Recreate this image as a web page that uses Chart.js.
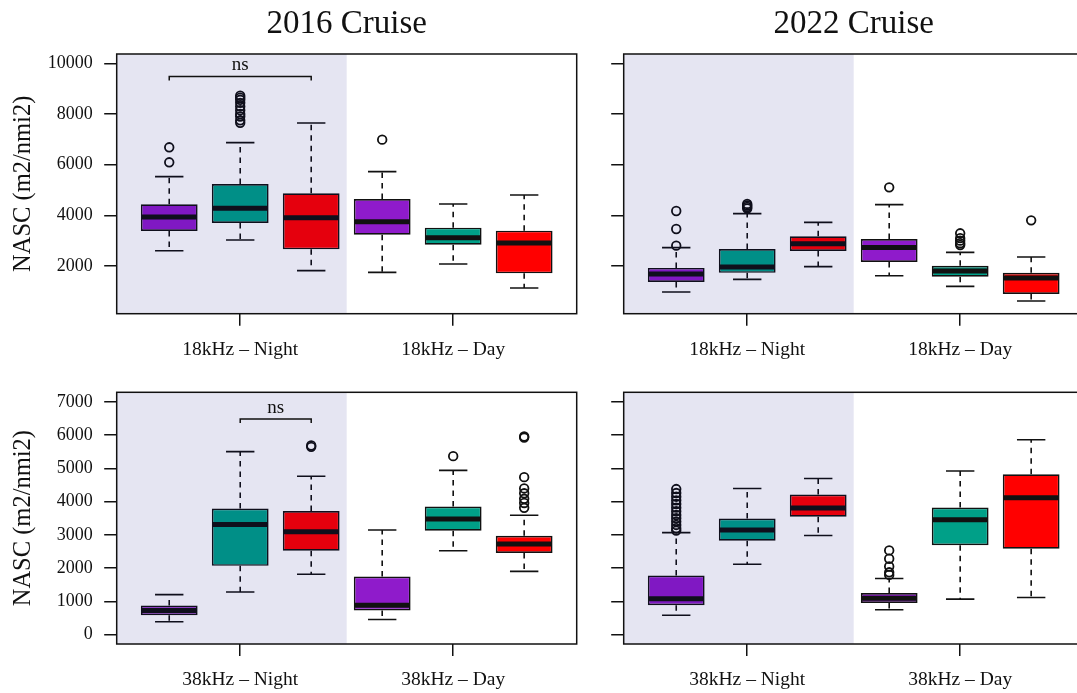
<!DOCTYPE html>
<html>
<head>
<meta charset="utf-8">
<script src="https://cdn.jsdelivr.net/npm/chart.js@4.4.1/dist/chart.umd.min.js"></script>
<style>
  html, body { margin: 0; padding: 0; background: #fff; overflow: hidden; width: 1077px; height: 693px; }
  canvas { position: absolute; }
</style>
</head>
<body>
<canvas id="p2016_18" width="600" height="370" style="left:0;top:0;width:600px;height:370px"></canvas>
<canvas id="p2022_18" width="500" height="370" style="left:600px;top:0;width:500px;height:370px"></canvas>
<canvas id="p2016_38" width="600" height="323" style="left:0;top:370px;width:600px;height:323px"></canvas>
<canvas id="p2022_38" width="500" height="323" style="left:600px;top:370px;width:500px;height:323px"></canvas>
<script>
// ---- data ----
const boxPos     = [1, 2, 3, 4, 5, 6];
const groupTicks = [2, 5];
const labels18   = ['18kHz – Night', '18kHz – Day'];
const labels38   = ['38kHz – Night', '38kHz – Day'];
const yTicksTop    = [2000, 4000, 6000, 8000, 10000];
const yTicksBottom = [0, 1000, 2000, 3000, 4000, 5000, 6000, 7000];

// 2016 cruise, 18 kHz
const c2016_18_lo  = [2605, 3026, 1816, 1750, 2079, 1132];
const c2016_18_q1  = [3382, 3697, 2658, 3237, 2840, 1711];
const c2016_18_med = [3934, 4276, 3908, 3750, 3118, 2908];
const c2016_18_q3  = [4434, 5237, 4868, 4645, 3513, 3395];
const c2016_18_hi  = [5526, 6868, 7645, 5724, 4447, 4803];
const c2016_18_out = [[6684, 6092], [8720, 8640, 8560, 8440, 8300, 8150, 8000, 7900, 7750, 7650], [], [6987], [], []];

// 2022 cruise, 18 kHz
const c2022_18_lo  = [974, 1474, 1974, 1618, 1197, 618];
const c2022_18_q1  = [1368, 1730, 2592, 2158, 1579, 895];
const c2022_18_med = [1680, 1961, 2882, 2730, 1803, 1530];
const c2022_18_q3  = [1925, 2671, 3171, 3066, 2013, 1737];
const c2022_18_hi  = [2724, 4066, 3724, 4421, 2539, 2355];
const c2022_18_out = [[4171, 3461, 2803], [4450, 4390, 4330, 4270], [], [5105], [3290, 3100, 3000, 2900, 2830], [3803]];

// 2016 cruise, 38 kHz
const c2016_38_lo  = [388, 1282, 1816, 456, 2524, 1903];
const c2016_38_q1  = [583, 2068, 2524, 728, 3126, 2456];
const c2016_38_med = [728, 3311, 3097, 884, 3476, 2728];
const c2016_38_q3  = [874, 3796, 3718, 1748, 3854, 2971];
const c2016_38_hi  = [1204, 5505, 4767, 3146, 4942, 3592];
const c2016_38_out = [[], [], [5690, 5650], [], [5369], [5960, 5930, 4738, 4398, 4252, 4087, 3961, 3816]];

// 2022 cruise, 38 kHz
const c2022_38_lo  = [583, 2117, 2981, 748, 1068, 1117];
const c2022_38_q1  = [883, 2825, 3544, 951, 2689, 2583];
const c2022_38_med = [1078, 3146, 3806, 1097, 3456, 4117];
const c2022_38_q3  = [1777, 3495, 4214, 1252, 3825, 4825];
const c2022_38_hi  = [3068, 4398, 4699, 1689, 4922, 5864];
const c2022_38_out = [[4379, 4260, 4150, 4040, 3930, 3820, 3710, 3600, 3500, 3400, 3300, 3200, 3130], [], [], [2534, 2282, 2049, 1874, 1796], [], []];

// significance brackets: [from box, to box, height, label]
const brk2016_18 = [[1, 3, 9480, 'ns']];
const brk2016_38 = [[2, 3, 6484, 'ns']];

// ---- styling ----
const SERIF = "'Liberation Serif', 'Times New Roman', serif";
const INK = '#111';
const boxColours = ['#8F1BCB', '#00A088', '#FF0000', '#8F1BCB', '#00A088', '#FF0000'];
const BOX_HALF = 0.4, CAP_HALF = 0.2, NIGHT_END = 3.5;

Chart.defaults.font.family = SERIF;
Chart.defaults.color = INK;

const boxExtras = {
  id: 'boxExtras',
  afterDatasetsDraw(chart, args, o) {
    const { ctx, chartArea: a, scales: { x, y } } = chart;
    const seg = (x1, y1, x2, y2) => { ctx.beginPath(); ctx.moveTo(x1, y1); ctx.lineTo(x2, y2); ctx.stroke(); };
    ctx.save();
    ctx.beginPath(); ctx.rect(a.left, a.top, a.right - a.left, a.bottom - a.top); ctx.clip();
    ctx.strokeStyle = INK;
    ctx.lineCap = 'butt';
    boxPos.forEach((p, i) => {
      const cx = x.getPixelForValue(p);
      const cl = x.getPixelForValue(p - CAP_HALF), cr = x.getPixelForValue(p + CAP_HALF);
      const bl = x.getPixelForValue(p - BOX_HALF), br = x.getPixelForValue(p + BOX_HALF);
      const yHi = y.getPixelForValue(o.hi[i]), yLo = y.getPixelForValue(o.lo[i]);
      const yQ1 = y.getPixelForValue(o.q1[i]), yQ3 = y.getPixelForValue(o.q3[i]);
      ctx.lineWidth = 1.6;
      ctx.setLineDash([5.5, 5]);
      seg(cx, yQ3, cx, yHi);
      seg(cx, yQ1, cx, yLo);
      ctx.setLineDash([]);
      seg(cl, yHi, cr, yHi);
      seg(cl, yLo, cr, yLo);
      ctx.lineWidth = 5;
      const ym = y.getPixelForValue(o.med[i]);
      seg(bl + 1, ym, br - 1, ym);
    });
    // night half of the panel
    ctx.fillStyle = 'rgba(0,0,128,0.1)';
    ctx.fillRect(a.left, a.top, x.getPixelForValue(NIGHT_END) - a.left, a.bottom - a.top);
    ctx.restore();

    ctx.save();
    ctx.strokeStyle = INK; ctx.fillStyle = INK; ctx.lineWidth = 1.5;
    (o.brackets || []).forEach(([from, to, h, label]) => {
      const x1 = x.getPixelForValue(from), x2 = x.getPixelForValue(to), yy = y.getPixelForValue(h);
      ctx.beginPath(); ctx.moveTo(x1, yy + 4); ctx.lineTo(x1, yy); ctx.lineTo(x2, yy); ctx.lineTo(x2, yy + 4); ctx.stroke();
      ctx.font = '19px ' + SERIF; ctx.textAlign = 'center'; ctx.textBaseline = 'alphabetic';
      ctx.fillText(label, (x1 + x2) / 2, yy - 6.5);
    });
    ctx.restore();
  },
  afterDraw(chart) {
    const { ctx, chartArea: a } = chart;
    ctx.save();
    ctx.strokeStyle = INK; ctx.lineWidth = 1.5;
    ctx.strokeRect(a.left, a.top, a.right - a.left, a.bottom - a.top);
    ctx.restore();
  }
};

function makePanel(id, s) {
  const outPts = [];
  s.out.forEach((vals, i) => vals.forEach(v => outPts.push({ x: boxPos[i], y: v })));
  return new Chart(document.getElementById(id), {
    type: 'bar',
    data: {
      datasets: [
        {
          type: 'bar',
          data: boxPos.map((p, i) => ({ x: p, y: [s.q1[i], s.q3[i]] })),
          backgroundColor: boxColours,
          borderColor: INK,
          borderWidth: 1.7,
          borderSkipped: false,
          barPercentage: 0.8,
          categoryPercentage: 1,
          order: 1
        },
        {
          type: 'scatter',
          data: outPts,
          pointRadius: 4.3,
          pointBorderWidth: 1.8,
          pointBackgroundColor: 'rgba(0,0,0,0)',
          pointBorderColor: INK,
          order: 0
        }
      ]
    },
    options: {
      responsive: false,
      animation: false,
      events: [],
      layout: { padding: s.pad },
      plugins: {
        legend: { display: false },
        tooltip: { enabled: false },
        title: {
          display: !!s.title, text: s.title, fullSize: false, color: INK,
          font: { family: SERIF, size: 33, weight: 'normal' },
          padding: { top: 4.2, bottom: 10.2 }
        },
        boxExtras: { lo: s.lo, q1: s.q1, med: s.med, q3: s.q3, hi: s.hi, brackets: s.brackets }
      },
      scales: {
        x: {
          type: 'linear', min: 0.26, max: 6.74, offset: false,
          grid: { offset: false, drawOnChartArea: false, drawTicks: true, tickLength: 12, color: INK, lineWidth: 1.5 },
          border: { display: false },
          afterBuildTicks: sc => { sc.ticks = groupTicks.map(v => ({ value: v })); },
          afterFit: sc => { sc.height = s.xH; },
          ticks: {
            autoSkip: false, maxRotation: 0, padding: 12.5, color: INK,
            font: { family: SERIF, size: 19.5 },
            callback: (v, i) => s.xLabels[i]
          }
        },
        y: {
          type: 'linear', min: s.yMin, max: s.yMax,
          grid: { drawOnChartArea: false, drawTicks: true, tickLength: 12.5, color: INK, lineWidth: 1.5 },
          border: { display: false },
          afterBuildTicks: sc => { sc.ticks = s.yTicks.map(v => ({ value: v })); },
          afterFit: sc => { sc.width = s.yW; },
          ticks: {
            padding: 11.5, color: INK,
            font: { family: SERIF, size: 18 },
            callback: v => (s.yLabels ? String(v) : '')
          },
          title: {
            display: !!s.yLabels, text: 'NASC (m2/nmi2)', color: INK,
            font: { family: SERIF, size: 24.5 },
            padding: { top: 9, bottom: 0 }
          }
        }
      }
    },
    plugins: [boxExtras]
  });
}

makePanel('p2016_18', {
  title: '2016 Cruise', lo: c2016_18_lo, q1: c2016_18_q1, med: c2016_18_med, q3: c2016_18_q3, hi: c2016_18_hi,
  out: c2016_18_out, brackets: brk2016_18, xLabels: labels18, yTicks: yTicksTop, yLabels: true,
  yMin: 118, yMax: 10367, pad: { left: 0, right: 23.3, top: 0, bottom: 0 }, yW: 116.7, xH: 56.3
});
makePanel('p2022_18', {
  title: '2022 Cruise', lo: c2022_18_lo, q1: c2022_18_q1, med: c2022_18_med, q3: c2022_18_q3, hi: c2022_18_hi,
  out: c2022_18_out, brackets: [], xLabels: labels18, yTicks: yTicksTop, yLabels: false,
  yMin: 118, yMax: 10367, pad: { left: 0, right: 16.3, top: 0, bottom: 0 }, yW: 23.7, xH: 56.3
});
makePanel('p2016_38', {
  title: '', lo: c2016_38_lo, q1: c2016_38_q1, med: c2016_38_med, q3: c2016_38_q3, hi: c2016_38_hi,
  out: c2016_38_out, brackets: brk2016_38, xLabels: labels38, yTicks: yTicksBottom, yLabels: true,
  yMin: -283, yMax: 7291, pad: { left: 0, right: 23.3, top: 14, bottom: 0 }, yW: 116.7, xH: 49
});
makePanel('p2022_38', {
  title: '', lo: c2022_38_lo, q1: c2022_38_q1, med: c2022_38_med, q3: c2022_38_q3, hi: c2022_38_hi,
  out: c2022_38_out, brackets: [], xLabels: labels38, yTicks: yTicksBottom, yLabels: false,
  yMin: -283, yMax: 7291, pad: { left: 0, right: 16.3, top: 14, bottom: 0 }, yW: 23.7, xH: 49
});
</script>
</body>
</html>
